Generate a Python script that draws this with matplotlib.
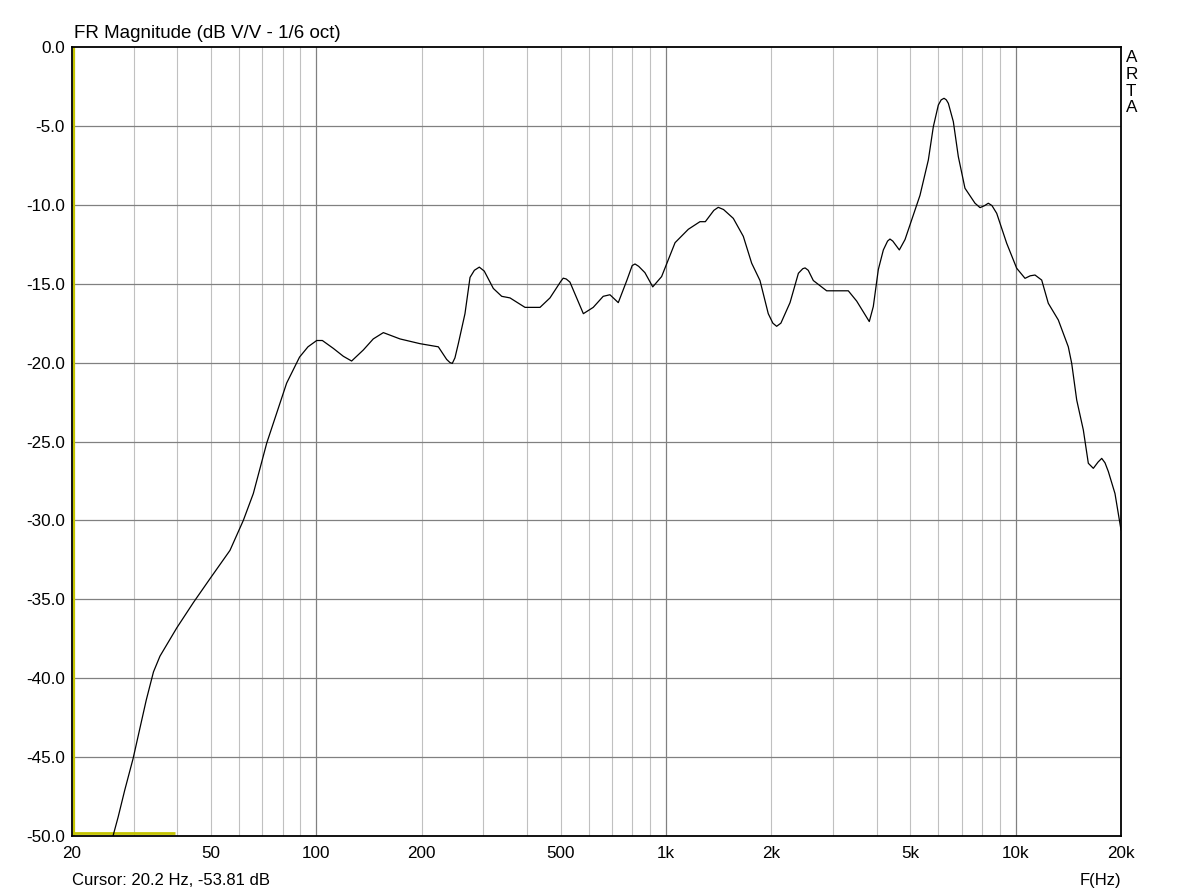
import matplotlib
matplotlib.use("Agg")
import matplotlib.pyplot as plt

plt.rcParams['font.family'] = ['Liberation Sans', 'DejaVu Sans']

# ---- data ----
freq_hz = [26.2, 27.1, 28.3, 29.9, 32.6, 34.2, 35.7, 39.9, 44.5, 49.6, 56.6, 61.8, 66.0,
           72.1, 77.0, 82.2, 89.5, 94.6, 100.2, 104, 111.8, 119.4, 126.1, 136.2, 145.4,
           155.4, 173.4, 197.8, 223.2, 235.8, 241, 244.7, 249, 254.6, 266, 275, 283, 292.3,
           302, 320.6, 338.8,
           357.8, 395, 436, 465.6, 500, 508, 518, 531, 580, 619, 661, 691, 730, 772, 800, 815,
           835, 870, 916,
           971, 1061, 1158, 1250, 1295, 1370, 1410, 1460, 1557, 1663, 1757, 1856, 1960, 2020,
           2071, 2130, 2262,
           2390, 2460, 2498, 2550, 2637, 2879, 3320, 3508, 3812, 3914, 4002, 4046, 4182, 4300,
           4368, 4450, 4646,
           4824, 5040, 5323, 5624, 5812, 6006, 6120, 6237, 6330, 6416, 6630, 6852, 7158, 7647,
           7905, 8150, 8348, 8550, 8822, 9422, 10062, 10630, 11000, 11352, 11864, 12390, 13236,
           14136, 14456, 14940, 15606, 16128, 16668, 17200, 17616, 18000, 18398, 19224, 20000]
mag_db = [-50.0, -48.8, -47.1, -45.1, -41.4, -39.6, -38.6, -36.8, -35.2, -33.7, -31.9, -30.0,
          -28.3, -25.1, -23.2, -21.3, -19.65, -19.0, -18.6, -18.6, -19.1, -19.6, -19.9,
          -19.2, -18.5, -18.1, -18.5, -18.8, -19.0, -19.8, -20.0, -20.05, -19.7, -18.8, -16.9,
          -14.6, -14.15, -13.95, -14.2, -15.3, -15.8, -15.9, -16.5, -16.5, -15.9, -14.85,
          -14.65, -14.7, -14.9, -16.9, -16.5, -15.8, -15.7, -16.2, -14.8, -13.85, -13.75,
          -13.9, -14.3, -15.2, -14.55, -12.4, -11.55, -11.07, -11.07, -10.35, -10.16, -10.3,
          -10.86, -12.0, -13.7, -14.8, -16.9, -17.5, -17.7, -17.5, -16.2, -14.34, -14.05,
          -14.0, -14.15, -14.8, -15.45, -15.45, -16.1, -17.4, -16.45, -14.9, -14.1, -12.86,
          -12.3, -12.17, -12.3, -12.86, -12.2, -10.96, -9.4, -7.16, -5.05, -3.68, -3.35,
          -3.25, -3.35, -3.57, -4.73, -6.95, -8.95, -9.9, -10.18, -10.05, -9.9, -10.05, -10.54,
          -12.44, -14.02, -14.66, -14.5, -14.45, -14.77, -16.24, -17.3, -19.0, -20.05, -22.37,
          -24.27, -26.38, -26.7, -26.3, -26.07, -26.35, -26.9, -28.3, -30.6]

x_tick_vals = [20, 50, 100, 200, 500, 1000, 2000, 5000, 10000, 20000]
x_tick_labels = ["20", "50", "100", "200", "500", "1k", "2k", "5k", "10k", "20k"]
y_tick_vals = [0, -5, -10, -15, -20, -25, -30, -35, -40, -45, -50]
y_tick_labels = ["0.0", "-5.0", "-10.0", "-15.0", "-20.0", "-25.0", "-30.0", "-35.0",
                 "-40.0", "-45.0", "-50.0"]
decade_lines = [100, 1000, 10000]
minor_lines = [30, 40, 50, 60, 70, 80, 90,
               200, 300, 400, 500, 600, 700, 800, 900,
               2000, 3000, 4000, 5000, 6000, 7000, 8000, 9000]

cursor_freq = 20.2
cursor_marker_end = 39.4
cursor_marker_level = -49.8

title_text = "FR Magnitude (dB V/V - 1/6 oct)"
brand_letters = ["A", "R", "T", "A"]
cursor_text = "Cursor: 20.2 Hz, -53.81 dB"
xlabel_text = "F(Hz)"

# ---- figure ----
W, H = 1193, 894
fig = plt.figure(figsize=(W / 100, H / 100), dpi=100)
ax = fig.add_axes([72 / W, (H - 836) / H, 1049 / W, 789 / H])
ax.set_xscale('log')
ax.set_xlim(20, 20000)
ax.set_ylim(-50, 0)

for f in minor_lines:
    ax.axvline(f, color='#c0c0c0', lw=0.8, zorder=1)
for f in decade_lines:
    ax.axvline(f, color='#808080', lw=0.9, zorder=1.1)
for v in y_tick_vals[1:-1]:
    ax.axhline(v, color='#808080', lw=0.9, zorder=1.2)

ax.plot(freq_hz, mag_db, color='black', lw=0.9, zorder=3, clip_on=True)

# cursor marks
ax.axvline(cursor_freq, color='#c4c400', lw=1.6, zorder=2)
ax.plot([20, cursor_marker_end], [cursor_marker_level, cursor_marker_level],
        color='#c4c400', lw=2.0, zorder=2, solid_capstyle='butt')

ax.set_xticks(x_tick_vals)
ax.set_xticklabels(x_tick_labels)
ax.xaxis.set_minor_locator(matplotlib.ticker.NullLocator())
ax.set_yticks(y_tick_vals)
ax.set_yticklabels(y_tick_labels)
ax.tick_params(axis='x', length=0, pad=7, labelsize=12.3)
ax.tick_params(axis='y', length=0, pad=5, labelsize=12.3)

for s in ax.spines.values():
    s.set_color('black')
    s.set_linewidth(1.3)

fig.text(74 / W, 1 - 38 / H, title_text, fontsize=13.5, va='baseline', ha='left')
for i, ch in enumerate(brand_letters):
    fig.text(1126 / W, 1 - (62 + 16.8 * i) / H, ch, fontsize=12.3, va='baseline', ha='left')
fig.text(72 / W, 1 - 885 / H, cursor_text, fontsize=12, va='baseline', ha='left')
fig.text(1121 / W, 1 - 885 / H, xlabel_text, fontsize=12, va='baseline', ha='right')

fig.savefig("out.png", dpi=100, facecolor='white')
